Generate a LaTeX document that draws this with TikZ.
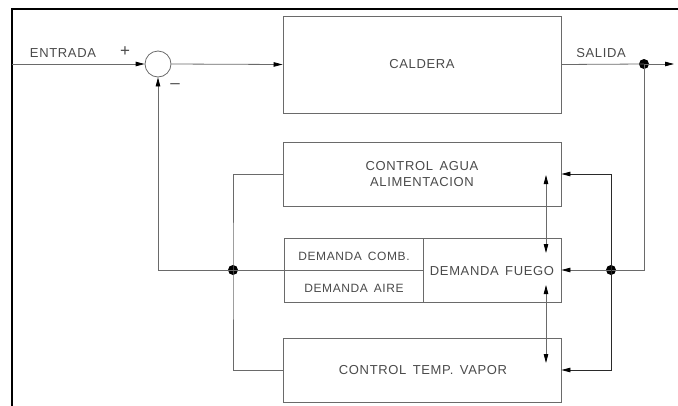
\documentclass[tikz,border=0pt]{standalone}
\usepackage{fontspec}
\setmainfont{Liberation Sans}[LetterSpace=5]
\usetikzlibrary{arrows.meta,calc}
\definecolor{ln}{HTML}{6A6A6A}
\definecolor{dk}{HTML}{2A2A2A}
\definecolor{tx}{HTML}{4A4A4A}
\begin{document}
\begin{tikzpicture}[x=1pt,y=-1pt,
  box/.style={draw=ln,line width=0.8pt,rectangle,inner sep=0pt},
  lbl/.style={text=tx,font=\fontsize{13}{16}\selectfont,inner sep=0pt},
  slbl/.style={text=tx,font=\fontsize{12}{14}\selectfont,inner sep=0pt},
  sgn/.style={text=tx,font=\fontsize{17}{18}\selectfont\addfontfeatures{LetterSpace=0},inner sep=0pt},
  wire/.style={draw=ln,line width=0.8pt},
  tip/.tip={Stealth[length=9pt,width=4.5pt,color=black,inset=0pt]},
  arr/.style={wire,-tip},
  darr/.style={wire,tip-tip},
  dot/.style={circle,fill=black,inner sep=0pt,minimum size=10pt}]
\useasboundingbox (0,0) rectangle (678,405);
\draw[line width=2pt] (12,406) -- (12,9) -- (679,9);
% blocks
\node[box,minimum width=278pt,minimum height=97pt] (cal) at (422,64.5) {};
\node[lbl] at (cal) {CALDERA};
\node[box,minimum width=278pt,minimum height=64pt] (cag) at (422,174) {};
\node[lbl,align=center] at (422,174.5) {CONTROL\, AGUA\\ALIMENTACION};
\node[box,minimum width=277pt,minimum height=64pt] (dem) at (422.5,270) {};
\coordinate (div) at (423,270);
\draw[wire] (423,238) -- (423,302);
\node[slbl] (comb) at (354,256) {DEMANDA\, COMB.};
\node[slbl] (aire) at (354,288) {DEMANDA\, AIRE};
\node[lbl] (fue) at (492,271) {DEMANDA\, FUEGO};
\node[box,minimum width=278pt,minimum height=64pt] (ctv) at (422,370) {};
\node[lbl] at (423,370.5) {CONTROL\, TEMP.\, VAPOR};
\node[draw=ln,line width=0.8pt,circle,minimum size=26pt,inner sep=0pt] (sum) at (158,64) {};
% labels
\node[lbl] at (63,53) {ENTRADA};
\node[sgn] at (125,52) {+};
\node[sgn] at (175,86) {\textendash};
\node[lbl] at (601,53) {SALIDA};
% dots
\node[dot] (od) at (644,64) {};
\node[dot] (rd) at (611,270) {};
\node[dot] (ld) at (233,270) {};
\coordinate (in) at (12,64);
\coordinate (oe) at (674,64);
\coordinate (rc) at (644,270);
% connectors
\draw[arr] (in) -- (sum.west);
\draw[arr] (sum.east) -- (cal.west);
\draw[wire] (cal.east) -- (od.center);
\draw[arr] (od.center) -- (oe);
\draw[wire] (od.center) -- (rc) -- (rd.center);
\draw[arr] (rd.center) -- (dem.east);
\draw[arr,draw=dk] (rd.center) |- (cag.east);
\draw[arr,draw=dk] (rd.center) |- (ctv.east);
\draw[arr] (div) -- (158,270) -- (sum.south);
\draw[wire] (cag.west) -| (ld.center) |- (ctv.west);
\draw[darr] (546,175) -- (546,253);
\draw[darr] (546,285) -- (546,363);
\end{tikzpicture}
\end{document}
